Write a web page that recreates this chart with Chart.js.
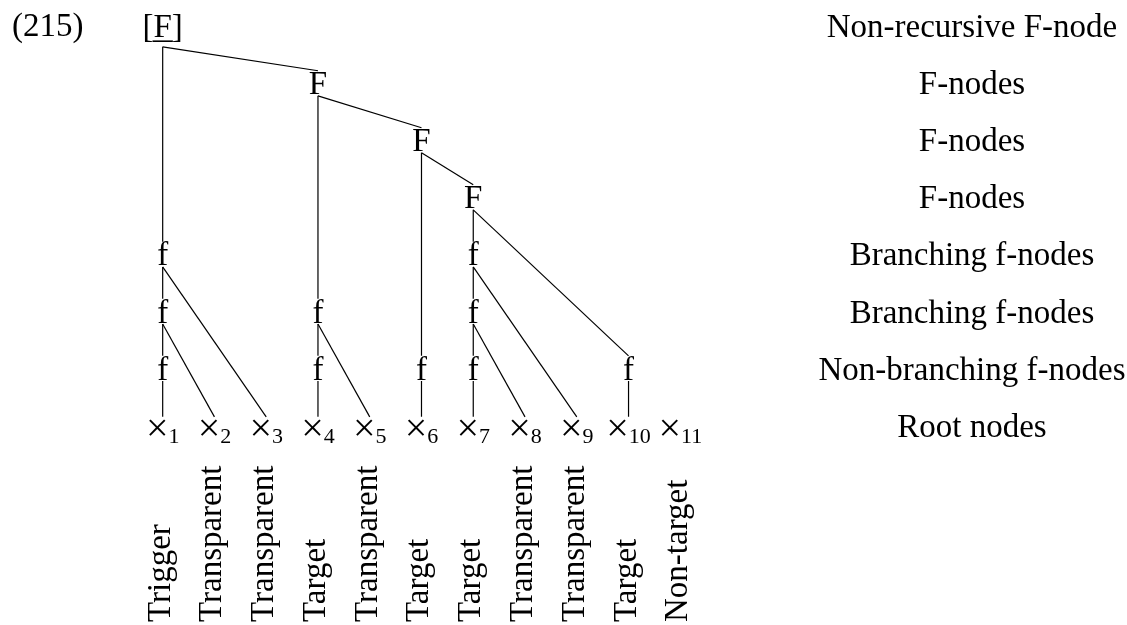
<!DOCTYPE html>
<html>
<head>
<meta charset="utf-8">
<script src="https://cdn.jsdelivr.net/npm/chart.js@4.4.1/dist/chart.umd.min.js"></script>
<style>
  html, body { margin: 0; padding: 0; background: #fff; }
  #wrap { width: 1127px; height: 625px; position: relative; }
</style>
</head>
<body>
<div id="wrap"><canvas id="treeChart"></canvas></div>
<script>
const exampleNumber = '(215)';

// row names, one per tree level (0 = top)
const levelNames = [
  'Non-recursive F-node',
  'F-nodes',
  'F-nodes',
  'F-nodes',
  'Branching f-nodes',
  'Branching f-nodes',
  'Non-branching f-nodes',
  'Root nodes'
];

// role of each root node, by column 1..11
const leafRoles = [
  'Trigger', 'Transparent', 'Transparent', 'Target', 'Transparent', 'Target',
  'Target', 'Transparent', 'Transparent', 'Target', 'Non-target'
];

// tree nodes: label, column, level, parent index (-1 = none)
const nodeLabels  = ['[F]', 'F', 'F', 'F', 'f', 'f', 'f', '×1', '×2', '×3', 'f', 'f', '×4', '×5', 'f', '×6', 'f', 'f', 'f', '×7', '×8', '×9', 'f', '×10', '×11'];
const nodeColumns = [1, 4, 6, 7, 1, 1, 1, 1, 2, 3, 4, 4, 4, 5, 6, 6, 7, 7, 7, 7, 8, 9, 10, 10, 11];
const nodeLevels  = [0, 1, 2, 3, 4, 5, 6, 7, 7, 7, 5, 6, 7, 7, 6, 7, 4, 5, 6, 7, 7, 7, 6, 7, 7];
const nodeParents = [-1, 0, 1, 2, 0, 4, 5, 6, 5, 4, 1, 10, 11, 10, 2, 14, 3, 16, 17, 18, 17, 16, 3, 22, -1];

const FONT_FAMILY = '"Liberation Serif", "Times New Roman", serif';
const MAIN_FONT = '33px ' + FONT_FAMILY;
const TIMES_FONT = '40px ' + FONT_FAMILY;
const SUB_FONT = '22px ' + FONT_FAMILY;

// gaps between a label and its edges, in level units
const SOUTH_GAP = 0.2;
const ROOT_SOUTH_GAP = 0.34;
const NORTH_GAP = 0.24;
const LEAF_NORTH_GAP = 0.17;

const edgeSets = [];
nodeParents.forEach((p, i) => {
  if (p < 0) return;
  const isLeaf = nodeLabels[i].startsWith('×');
  edgeSets.push({
    data: [
      { x: nodeColumns[p], y: nodeLevels[p] + (nodeParents[p] < 0 ? ROOT_SOUTH_GAP : SOUTH_GAP) },
      { x: nodeColumns[i], y: nodeLevels[i] - (isLeaf ? LEAF_NORTH_GAP : NORTH_GAP) }
    ],
    showLine: true,
    borderColor: '#000',
    borderWidth: 1.2,
    pointRadius: 0,
    fill: false,
    tension: 0
  });
});

const treeText = {
  id: 'treeText',
  afterDatasetsDraw(chart) {
    const ctx = chart.ctx;
    const xs = chart.scales.x;
    const ys = chart.scales.y;
    const area = chart.chartArea;
    ctx.save();
    ctx.fillStyle = '#000';
    ctx.textBaseline = 'alphabetic';

    // example number
    ctx.font = MAIN_FONT;
    ctx.textAlign = 'left';
    ctx.fillText(exampleNumber, 12, ys.getPixelForValue(0) + 9);

    // node labels
    nodeLabels.forEach((label, i) => {
      const px = xs.getPixelForValue(nodeColumns[i]);
      const py = ys.getPixelForValue(nodeLevels[i]) + 10;
      if (label.startsWith('×')) {
        const sub = label.slice(1);
        ctx.font = TIMES_FONT;
        const w1 = ctx.measureText('×').width;
        ctx.font = SUB_FONT;
        const w2 = ctx.measureText(sub).width;
        const start = px - (w1 + w2) / 2;
        ctx.textAlign = 'left';
        ctx.font = TIMES_FONT;
        ctx.fillText('×', start, py + 4);
        ctx.font = SUB_FONT;
        ctx.fillText(sub, start + w1, py + 6);
      } else if (label.startsWith('[')) {
        ctx.font = MAIN_FONT;
        ctx.textAlign = 'center';
        ctx.fillText(label, px, py);
        const inner = label.slice(1, -1);
        const wAll = ctx.measureText(label).width;
        const wBr = ctx.measureText('[').width;
        const wIn = ctx.measureText(inner).width;
        const left = px - wAll / 2 + wBr;
        ctx.fillRect(left - 1, py + 3, wIn + 2, 1.6);
      } else {
        ctx.font = MAIN_FONT;
        ctx.textAlign = 'center';
        ctx.fillText(label, px, py);
      }
    });

    // row names on the right
    ctx.font = MAIN_FONT;
    ctx.textAlign = 'center';
    levelNames.forEach((name, lvl) => {
      ctx.fillText(name, area.right - 155, ys.getPixelForValue(lvl) + 10);
    });

    // rotated roles under the root nodes
    ctx.textAlign = 'left';
    leafRoles.forEach((role, i) => {
      const px = xs.getPixelForValue(i + 1);
      ctx.save();
      ctx.translate(px + 7, area.bottom - 3);
      ctx.rotate(-Math.PI / 2);
      ctx.fillText(role, 0, 0);
      ctx.restore();
    });
    ctx.restore();
  }
};

const ctx = document.getElementById('treeChart').getContext('2d');
window.treeChart = new Chart(ctx, {
  type: 'scatter',
  data: { datasets: edgeSets },
  options: {
    responsive: true,
    maintainAspectRatio: false,
    animation: false,
    events: [],
    layout: { padding: 0 },
    plugins: {
      legend: { display: false },
      tooltip: { enabled: false }
    },
    scales: {
      x: { type: 'linear', min: -2.143, max: 19.63, display: false },
      y: { type: 'linear', reverse: true, min: -0.4805, max: 10.48, display: false }
    }
  },
  plugins: [treeText]
});
</script>
</body>
</html>
